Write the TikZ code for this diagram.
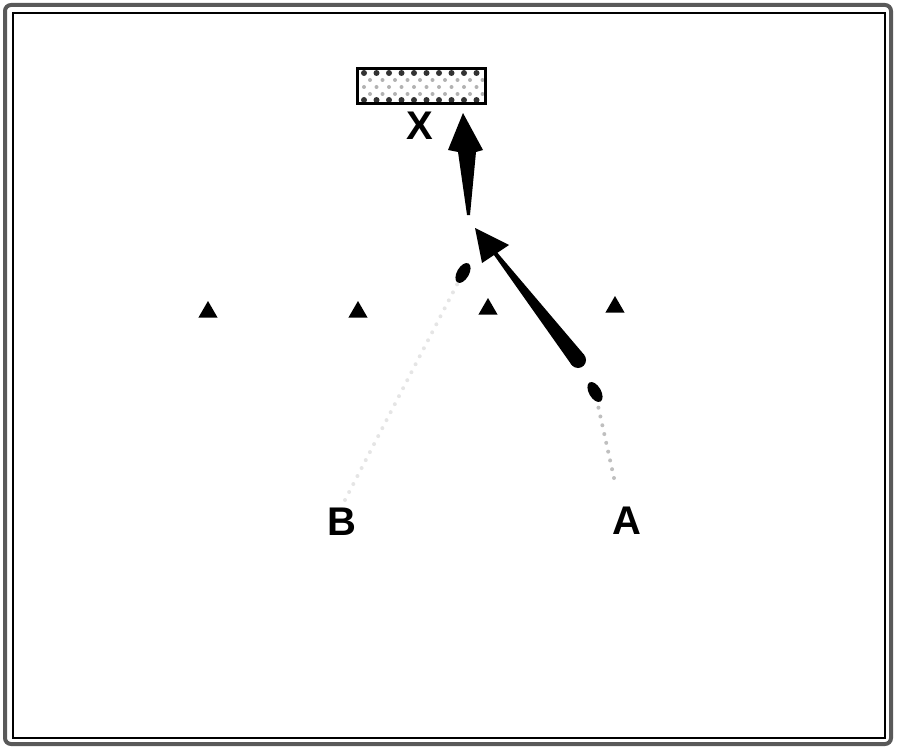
\documentclass[tikz,border=0pt]{standalone}
\usepackage{fontspec}
\setmainfont{Liberation Sans}
\usetikzlibrary{shapes.geometric}

\tikzset{
	marker/.style={regular polygon, regular polygon sides=3, fill=black, inner sep=0pt, minimum size=22pt},
	letter/.style={inner sep=0pt, font=\fontsize{40}{40}\selectfont\bfseries},
	drop/.style={ellipse, fill=black, inner sep=0pt, minimum width=12pt, minimum height=22pt},
	trail/.style={dash pattern=on 0pt off 9pt, line width=4pt, line cap=round}
}

\begin{document}
\begin{tikzpicture}[x=1pt,y=-1pt]
	\useasboundingbox (0,0) rectangle (900,752);
	\draw[line width=4pt, black!65, rounded corners=6pt] (5,5) rectangle (891,744);
	\draw[line width=1.5pt] (13,13) rectangle (885,738);

	\foreach \i in {0,...,9} {
		\fill[black!80] (364+12.5*\i,73) circle (3pt);
		\fill[gray!60] (370+12.5*\i,80) circle (2pt);
		\fill[gray!60] (364+12.5*\i,87) circle (2pt);
		\fill[gray!60] (370+12.5*\i,94) circle (2pt);
		\fill[black!80] (364+12.5*\i,100) circle (3pt);
	}
	\draw[line width=3pt] (357,69) rectangle (485,103);
	\node[letter] (xlabel) at (420,126) {X};

	\node[marker] (m1) at (208,312) {};
	\node[marker] (m2) at (358,312) {};
	\node[marker] (m3) at (488,309) {};
	\node[marker] (m4) at (615,307) {};

	\node[letter] (blabel) at (342,522) {B};
	\node[letter] (alabel) at (627,521) {A};

	\node[drop, rotate=-30] (dropb) at (463,273) {};
	\node[drop, rotate=30] (dropa) at (595,392) {};

	\coordinate (bstart) at (345,500);
	\coordinate (astart) at (614,478);
	\draw[trail, gray!20] (bstart) -- (dropb);
	\draw[trail, gray!50] (astart) -- (dropa);

	\fill (463,113) -- (483,150) -- (476,152) -- (470,215) -- (467,215) -- (458,152) -- (448,150) -- cycle;

	\fill (571.7,365) -- (584.3,355) -- (496.6,251.8) -- (493.4,254.2) -- cycle;
	\fill (578,360) circle (8pt);
	\fill (475,228) -- (509,245) -- (482,263) -- cycle;
\end{tikzpicture}
\end{document}
